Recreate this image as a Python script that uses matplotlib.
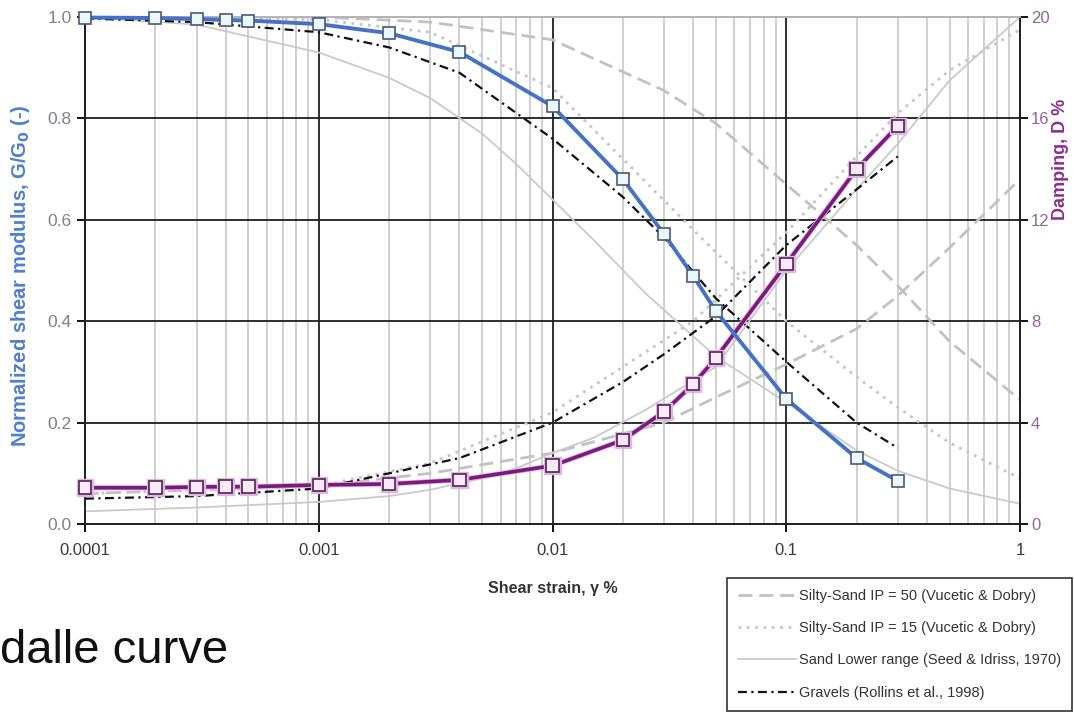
import numpy as np
import matplotlib.pyplot as plt
import matplotlib.patheffects as pe
from matplotlib.ticker import FixedLocator, FixedFormatter, LogLocator, NullFormatter

plt.rcParams['font.family'] = ['Liberation Sans', 'DejaVu Sans']

# measured curves (square markers)
strain = [0.0001, 0.0002, 0.0003, 0.0004, 0.0005, 0.001, 0.002, 0.004,
          0.01, 0.02, 0.03, 0.04, 0.05, 0.1, 0.2, 0.3]
g_meas = [0.999, 0.998, 0.996, 0.994, 0.993, 0.986, 0.968, 0.931,
          0.824, 0.680, 0.572, 0.489, 0.42, 0.247, 0.130, 0.085]
d_meas = [1.43, 1.43, 1.46, 1.47, 1.47, 1.54, 1.58, 1.74,
          2.30, 3.31, 4.43, 5.52, 6.55, 10.26, 14.0, 15.7]

# reference curves
ip50_strain = [0.0001, 0.001, 0.003, 0.01, 0.03, 0.05, 0.1, 0.2, 0.3, 0.5, 1.0]
ip50_g = [1.0, 1.0, 0.99, 0.955, 0.855, 0.79, 0.67, 0.55, 0.47, 0.36, 0.245]
ip50_d = [1.2, 1.5, 2.0, 2.8, 4.0, 5.0, 6.3, 7.7, 9.0, 10.9, 13.6]

ip15_strain = [0.0001, 0.001, 0.003, 0.01, 0.02, 0.04, 0.1, 0.2, 0.3, 0.5, 1.0]
ip15_g = [1.0, 0.995, 0.97, 0.86, 0.72, 0.58, 0.40, 0.29, 0.23, 0.16, 0.09]
ip15_d = [1.2, 1.5, 2.4, 4.4, 6.2, 8.0, 11.5, 14.5, 16.2, 17.9, 19.5]

sand_strain = [0.0001, 0.0003, 0.001, 0.002, 0.003, 0.005, 0.007, 0.01, 0.015,
               0.025, 0.05, 0.1, 0.2, 0.3, 0.5, 1.0]
sand_g = [1.0, 0.985, 0.93, 0.88, 0.84, 0.77, 0.71, 0.64, 0.56,
          0.455, 0.33, 0.24, 0.145, 0.105, 0.07, 0.04]
sand_d = [0.5, 0.65, 0.87, 1.1, 1.35, 1.8, 2.2, 2.8, 3.4,
          4.5, 6.2, 10.0, 13.2, 15.0, 17.5, 20.0]

grav_strain = [0.0001, 0.0003, 0.001, 0.002, 0.004, 0.01, 0.02, 0.03, 0.05, 0.1, 0.2, 0.3]
grav_g = [0.997, 0.99, 0.97, 0.94, 0.89, 0.76, 0.645, 0.565, 0.445, 0.32, 0.2, 0.15]
grav_d = [1.0, 1.1, 1.4, 2.0, 2.6, 4.0, 5.6, 6.7, 8.2, 11.0, 13.2, 14.5]

xtick_vals = [0.0001, 0.001, 0.01, 0.1, 1]
xtick_labels = ['0.0001', '0.001', '0.01', '0.1', '1']
g_ticks = [0.0, 0.2, 0.4, 0.6, 0.8, 1.0]
d_ticks = [0, 4, 8, 12, 16, 20]

fig = plt.figure(figsize=(10.74, 7.21), dpi=100)
ax = fig.add_axes([85/1074, 1-524/721, 935/1074, 507/721])
ax2 = ax.twinx()

styles = {
    'ip50': dict(color='#c2c2c2', lw=2.0, dashes=(5, 2.5)),
    'ip15': dict(color='#c6c6c6', lw=2.0, dashes=(1, 2)),
    'sand': dict(color='#cacaca', lw=1.3, ls='-'),
    'grav': dict(color='#111111', lw=1.6, dashes=(4, 2, 1, 2)),
}

h1, = ax.plot(ip50_strain, ip50_g, label='Silty-Sand IP = 50 (Vucetic & Dobry)', **styles['ip50'])
h2, = ax.plot(ip15_strain, ip15_g, label='Silty-Sand IP = 15 (Vucetic & Dobry)', **styles['ip15'])
h3, = ax.plot(sand_strain, sand_g, label='Sand Lower range (Seed & Idriss, 1970)', **styles['sand'])
h4, = ax.plot(grav_strain, grav_g, label='Gravels (Rollins et al., 1998)', **styles['grav'])

ax2.plot(ip50_strain, ip50_d, **styles['ip50'])
ax2.plot(ip15_strain, ip15_d, **styles['ip15'])
ax2.plot(sand_strain, sand_d, **styles['sand'])
ax2.plot(grav_strain, grav_d, **styles['grav'])

# measured damping and G/G0 on top
ax2.plot(strain, d_meas, color='#7a1a7c', lw=2.6, marker='s', ms=9,
         mfc='#f8e8f8', mec='#4a2a4a', mew=1.2, clip_on=False, zorder=5,
         path_effects=[pe.Stroke(linewidth=3.8, foreground='#e6b3e8'), pe.Normal()])
ax2.plot(strain, g_meas, color='#4472c8', lw=2.8, marker='s', ms=9,
         mfc='#eaf8fd', mec='#4a5a72', mew=1.2, clip_on=False, zorder=6,
         transform=ax.transData)

ax.set_xscale('log')
ax.set_xlim(1e-4, 1)
ax.set_ylim(0, 1.0)
ax2.set_ylim(0, 20)

ax.xaxis.set_major_locator(FixedLocator(xtick_vals))
ax.xaxis.set_major_formatter(FixedFormatter(xtick_labels))
ax.xaxis.set_minor_locator(LogLocator(base=10, subs=np.arange(2, 10)))
ax.xaxis.set_minor_formatter(NullFormatter())
ax.set_yticks(g_ticks)
ax.set_yticklabels(['%.1f' % v for v in g_ticks])
ax2.set_yticks(d_ticks)

ax.grid(which='minor', axis='x', color='#cdcdcd', lw=1.3)
ax.grid(which='major', axis='both', color='#1e1e1e', lw=1.3)
ax.tick_params(which='minor', length=0)
ax.tick_params(axis='x', which='major', length=6, width=1.3, labelsize=12,
               labelcolor='#3a3a3a', pad=8)
ax.tick_params(axis='y', length=6, width=1.3, labelsize=12.5, labelcolor='#80808f')
ax2.tick_params(axis='y', length=6, width=1.3, labelsize=12, labelcolor='#93649a', pad=2)

for a in (ax, ax2):
    a.spines['top'].set_color('#b5b5b5')
    a.spines['left'].set_color('#222222')
    a.spines['right'].set_color('#222222')
    a.spines['bottom'].set_color('#222222')
    for s in a.spines.values():
        s.set_linewidth(1.3)

ax.set_xlabel('Shear strain, γ %', fontsize=11.5, fontweight='bold', color='#333333', labelpad=16)
ax.set_ylabel('Normalized shear modulus, G/G$_\\mathbf{0}$ (-)', fontsize=14.5,
              fontweight='bold', color='#4f7ed4')
ax.yaxis.set_label_coords(-0.057, 0.49)
ax2.set_ylabel('Damping, D %', fontsize=13, fontweight='bold', color='#8c2e8e')
ax2.yaxis.set_label_coords(1.034, 0.72)

leg = ax.legend(handles=[h1, h2, h3, h4], loc='upper left',
                bbox_to_anchor=(727/1074, 1-578/721), bbox_transform=fig.transFigure,
                fontsize=10.5, handlelength=4.0, handletextpad=0.2, labelspacing=1.25,
                borderpad=0.75, borderaxespad=0, fancybox=False, framealpha=1,
                edgecolor='#333333')
leg.get_frame().set_linewidth(1.2)
for t in leg.get_texts():
    t.set_color('#333333')

fig.text(0.0, 0.097, 'dalle curve', fontsize=34, color='#111111', va='center', ha='left')

fig.savefig('out.png', dpi=100)
